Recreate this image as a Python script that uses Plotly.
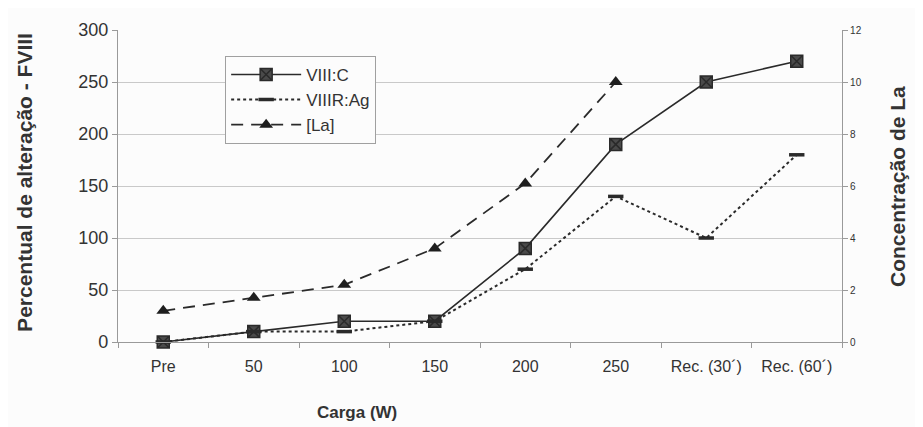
import plotly.graph_objects as go

categories = ["Pre", "50", "100", "150", "200", "250", "Rec. (30´)", "Rec. (60´)"]
viii_c = [0, 10, 20, 20, 90, 190, 250, 270]
viiir_ag = [0, 10, 10, 20, 70, 140, 100, 180]
la_conc = [1.2, 1.7, 2.2, 3.6, 6.1, 10.0, None, None]

FONT = "Liberation Sans, Arial, sans-serif"
INK = "#2a2a2a"
AXIS = "#9a9a9a"
GRID = "#c9c9c9"
TXT = "#333333"

fig = go.Figure()
fig.add_trace(go.Scatter(
    x=categories, y=viii_c, name="VIII:C", mode="lines+markers",
    line=dict(color=INK, width=1.6),
    marker=dict(symbol="square-x", size=12, color="#4a4a4a", line=dict(color=INK, width=1.5)),
    cliponaxis=False, legendgroup="a"))
fig.add_trace(go.Scatter(
    x=categories, y=viiir_ag, name="VIIIR:Ag", mode="lines+markers",
    line=dict(color=INK, width=2, dash="dot"),
    marker=dict(symbol="line-ew", size=11, color=INK, line=dict(color=INK, width=3.5)),
    cliponaxis=False, legendgroup="b"))
fig.add_trace(go.Scatter(
    x=categories, y=la_conc, name="[La]", mode="lines+markers", yaxis="y2",
    line=dict(color=INK, width=1.8, dash="12px,8px"),
    marker=dict(symbol="triangle-up", size=12, color="#1e1e1e"),
    cliponaxis=False, connectgaps=False, legendgroup="c"))

fig.update_layout(
    width=915, height=419,
    margin=dict(l=110, r=81, t=20, b=85),
    paper_bgcolor="#fcfcfc", plot_bgcolor="#fcfcfc",
    font=dict(family=FONT, color=TXT),
    showlegend=True,
    legend=dict(
        x=0.148, y=0.917, xanchor="left", yanchor="top",
        bgcolor="#fcfcfc", bordercolor="#a0a0a0", borderwidth=1,
        font=dict(size=17, family=FONT, color=TXT),
        itemwidth=70, tracegroupgap=0, traceorder="grouped",
    ),
    xaxis=dict(
        type="category", range=[-0.5, 7.5],
        showline=True, linecolor=AXIS, linewidth=1.2,
        ticks="outside", tickson="boundaries", ticklen=5, tickcolor=AXIS,
        tickfont=dict(size=16, family=FONT, color=TXT),
        ticklabelstandoff=10,
        showgrid=False, zeroline=False,
    ),
    yaxis=dict(
        range=[0, 300], dtick=50, tick0=0,
        showline=True, linecolor=AXIS, linewidth=1.2,
        ticks="outside", ticklen=5, tickcolor=AXIS,
        tickfont=dict(size=18, family=FONT, color=TXT),
        showgrid=True, gridcolor=GRID, gridwidth=1,
        zeroline=False,
    ),
    yaxis2=dict(
        range=[0, 12], dtick=2, tick0=0, overlaying="y", side="right",
        showline=True, linecolor=AXIS, linewidth=1.2,
        ticks="outside", ticklen=5, tickcolor=AXIS,
        tickfont=dict(size=10, family=FONT, color=TXT),
        showgrid=False, zeroline=False,
    ),
    annotations=[
        dict(text="<b>Percentual de alteração - FVIII</b>", xref="paper", yref="paper",
             x=(25 - 118) / 724, y=0.51, textangle=-90, showarrow=False,
             xanchor="center", yanchor="middle",
             font=dict(size=21, family=FONT, color=TXT)),
        dict(text="<b>Concentração de La</b>", xref="paper", yref="paper",
             x=(898 - 118) / 724, y=(342 - 186) / 314, textangle=-90, showarrow=False,
             xanchor="center", yanchor="middle",
             font=dict(size=21, family=FONT, color=TXT)),
        dict(text="<b>Carga (W)</b>", xref="paper", yref="paper",
             x=(357 - 118) / 724, y=(342 - 413) / 314, showarrow=False,
             xanchor="center", yanchor="middle",
             font=dict(size=17, family=FONT, color=TXT)),
    ],
)

fig.write_html("out.html")
